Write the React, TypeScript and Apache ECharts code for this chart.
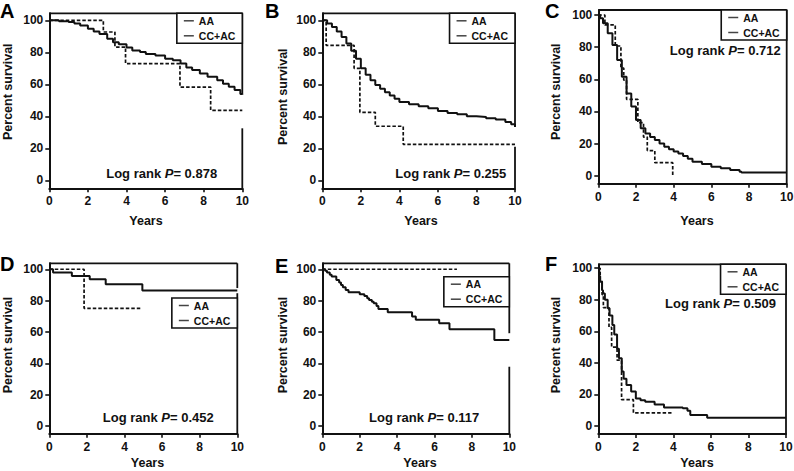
import React, { useEffect, useRef } from 'react';
import * as echarts from 'echarts';

// ---------- data ----------
const yearTicks = [0, 2, 4, 6, 8, 10];
const survivalTicks = [0, 20, 40, 60, 80, 100];
const panelLetters = ['A', 'B', 'C', 'D', 'E', 'F'];
const seriesNames = ['AA', 'CC+AC'];
const logRankP = ['0.878', '0.255', '0.712', '0.452', '0.117', '0.509'];

const aaA = [[0, 100], [0.5, 99.5], [1, 99], [1.3, 98], [1.6, 96.8], [2, 94.8], [2.3, 93], [2.6, 91.5], [3, 88.5], [3.3, 86.3], [3.6, 85], [4, 83], [4.3, 81.2], [4.7, 80.2], [5, 79], [5.5, 78], [6, 76], [6.4, 75], [6.8, 73], [7.1, 70.5], [7.4, 69], [7.8, 66.7], [8.2, 64.8], [8.7, 62.5], [9, 60.4], [9.3, 58.5], [9.6, 56.5], [9.9, 54], [10, 53.5]];
const ccA = [[0, 100], [2.8, 92.7], [3.4, 83.3], [3.95, 72.9], [6.77, 58.3], [8.36, 43.75], [10, 43.75]];

const aaB = [[0, 100], [0.25, 98], [0.5, 95.8], [0.75, 93], [1, 89.6], [1.25, 85.5], [1.5, 81], [1.75, 76], [2, 70], [2.25, 66], [2.5, 62.5], [2.75, 59.5], [3, 57.3], [3.25, 55], [3.5, 53], [3.75, 51], [4, 49], [4.5, 47.5], [5, 46.3], [5.5, 45], [6, 43.3], [6.5, 42], [7, 41.3], [7.5, 40], [8, 39.6], [8.5, 38.8], [9, 38], [9.5, 36.5], [9.8, 35], [10, 33.3]];
const ccB = [[0, 100], [0.2, 84.4], [1.65, 70], [1.95, 42.5], [2.75, 33.8], [4.2, 22.5], [10, 22.5]];

const aaC = [[0, 100], [0.1, 98], [0.25, 94.8], [0.5, 88.6], [0.75, 81.3], [1, 72], [1.25, 61.6], [1.5, 51.2], [1.75, 43], [2, 34.6], [2.25, 29.5], [2.5, 26.3], [2.75, 24], [3, 22.2], [3.25, 20], [3.5, 18], [3.75, 16.5], [4, 15], [4.25, 13.8], [4.5, 12.2], [4.75, 10.5], [5, 8.7], [5.5, 7.3], [6, 5.6], [6.5, 4.6], [7, 3.5], [7.5, 2.5], [7.6, 1.9], [10, 1.9]];
const ccC = [[0, 100], [0.35, 93.8], [0.9, 80.7], [1.2, 67], [1.35, 59.5], [1.5, 47.5], [2.1, 33], [2.4, 24], [2.6, 15.6], [3.0, 8.1], [3.95, 0]];

const aaD = [[0, 100], [0.2, 98], [1.2, 95.7], [2.15, 93.6], [3.0, 90.4], [4.95, 86.4], [10, 86.4]];
const ccD = [[0, 100], [1.85, 75.1], [4.9, 75.1]];

const aaE = [[0, 100], [0.15, 99], [0.25, 98], [0.4, 96.5], [0.5, 95.3], [0.75, 93.2], [0.9, 91.5], [1.0, 90], [1.1, 88.5], [1.25, 86.8], [1.4, 85.3], [2.0, 84], [2.25, 83], [2.4, 81.5], [2.5, 80.4], [2.65, 79.3], [2.75, 78.3], [2.9, 76.5], [3.0, 74.7], [3.5, 72.5], [4.8, 69.8], [5.0, 67.7], [6.25, 65.5], [6.8, 61.7], [9.2, 54.9], [10, 54.9]];
const ccE = [[0, 100], [7.2, 100]];

const aaF = [[0, 100], [0.05, 95], [0.1, 91.5], [0.2, 86], [0.25, 84], [0.35, 80], [0.5, 74.6], [0.6, 70], [0.75, 64], [0.85, 58], [1.0, 49], [1.1, 43], [1.25, 34.5], [1.35, 30], [1.5, 26], [1.75, 21.8], [2.0, 17.5], [2.25, 16.3], [2.5, 15.4], [3.0, 13.7], [3.5, 11.8], [4.5, 11.2], [4.75, 9.7], [4.9, 7], [5.8, 5.3], [10, 5.3]];
const ccF = [[0, 100], [0.1, 91.7], [0.2, 83.3], [0.27, 75], [0.57, 62.5], [0.71, 50], [1.0, 41.7], [1.24, 16.7], [1.87, 8.3], [3.9, 8.3]];

const aaSeries = [aaA, aaB, aaC, aaD, aaE, aaF];
const ccSeries = [ccA, ccB, ccC, ccD, ccE, ccF];

// ---------- layout (pixels) ----------
const layouts = [
  { left: 49.3, top: 13.3, width: 193, height: 175, yMax: 104.4, legendTop: 13.3, legendRight: 242.3, pText: [161.7, 173.3], letter: [0, 10.5], yName: [7.5, 91.7], xName: [146, 221], gaps: [[54, 32.5]] },
  { left: 322.3, top: 13.3, width: 192.7, height: 175, yMax: 104.4, legendTop: 13.3, legendRight: 515, pText: [450.8, 173.3], letter: [265, 10.5], yName: [282.5, 96.7], xName: [421, 221], gaps: [[33.3, 21]] },
  { left: 598.3, top: 10, width: 188.4, height: 173.7, yMax: 103.1, legendTop: 10, legendRight: 786.7, pText: [725.3, 50.7], letter: [545, 10.5], yName: [556, 91.7], xName: [697, 221], gaps: [] },
  { left: 49.3, top: 263.3, width: 188, height: 170.5, yMax: 103.8, legendTop: 298, legendRight: 237.3, pText: [158.3, 417.7], letter: [0, 263.5], yName: [7.5, 345], xName: [147.5, 463], gaps: [[88, 84.7]] },
  { left: 322.3, top: 263.3, width: 187, height: 170.5, yMax: 103.8, legendTop: 276.7, legendRight: 509.3, pText: [424.2, 417.7], letter: [275, 266], yName: [282.5, 345], xName: [420, 463], gaps: [[59.2, 37.8]] },
  { left: 598.3, top: 264.3, width: 187.7, height: 169.6, yMax: 102.5, legendTop: 264.3, legendRight: 786, pText: [720.5, 303.3], letter: [545, 263.5], yName: [556, 345], xName: [697, 463], gaps: [] },
];

const FONT = '"Liberation Sans", Arial, Helvetica, sans-serif';
const INK = '#111';

function frameSegments(yMax: number, gaps: number[][]) {
  const pts: number[] = [yMax];
  gaps.forEach(([a, b]) => { pts.push(a, b); });
  pts.push(-5);
  const segs: number[][][] = [[[0, yMax], [10, yMax]]];
  for (let i = 0; i < pts.length; i += 2) {
    segs.push([[10, pts[i]], [10, pts[i + 1]]]);
  }
  return segs;
}

function buildOption() {
  const grid: any[] = [];
  const xAxis: any[] = [];
  const yAxis: any[] = [];
  const series: any[] = [];
  const legend: any[] = [];
  const graphic: any[] = [];

  layouts.forEach((L, i) => {
    grid.push({ left: L.left, top: L.top, width: L.width, height: L.height, containLabel: false, outerBoundsMode: 'none' });
    xAxis.push({
      type: 'value', gridIndex: i, min: 0, max: 10, interval: 2, position: 'bottom',
      axisLine: { show: true, onZero: false, lineStyle: { color: INK, width: 2 } },
      axisTick: { show: true, length: 4, lineStyle: { color: INK, width: 1.6 } },
      axisLabel: { margin: 7, color: INK, fontSize: 12, fontWeight: 'bold', fontFamily: FONT, formatter: (v: number) => (yearTicks.includes(v) ? String(v) : '') },
      splitLine: { show: false },
    });
    yAxis.push({
      type: 'value', gridIndex: i, min: -5, max: L.yMax,
      axisLine: { show: true, onZero: false, lineStyle: { color: INK, width: 2 } },
      axisTick: { show: true, length: 4, customValues: survivalTicks, lineStyle: { color: INK, width: 1.6 } },
      axisLabel: { margin: 6, customValues: survivalTicks, color: INK, fontSize: 12, fontWeight: 'bold', fontFamily: FONT },
      splitLine: { show: false },
    });
    frameSegments(L.yMax, L.gaps).forEach((seg) => {
      series.push({
        type: 'line', xAxisIndex: i, yAxisIndex: i, data: seg, silent: true,
        showSymbol: false, symbol: 'none', clip: false, z: 4,
        lineStyle: { color: INK, width: 1.8, type: 'solid' },
      });
    });
    series.push({
      name: seriesNames[0], type: 'line', step: 'end', xAxisIndex: i, yAxisIndex: i,
      data: aaSeries[i], showSymbol: false, symbol: 'none', clip: false, z: 3,
      lineStyle: { color: INK, width: 2, type: 'solid' }, itemStyle: { color: INK },
    });
    series.push({
      name: seriesNames[1], type: 'line', step: 'end', xAxisIndex: i, yAxisIndex: i,
      data: ccSeries[i], showSymbol: false, symbol: 'none', clip: false, z: 2,
      lineStyle: { color: INK, width: 1.7, type: [3.5, 2] }, itemStyle: { color: INK },
    });
    legend.push({
      show: true, orient: 'vertical', right: 794 - L.legendRight, top: L.legendTop,
      data: seriesNames, icon: 'rect', itemWidth: 10, itemHeight: 1.5, itemGap: 4,
      padding: [2, 7, 2, 7], borderColor: INK, borderWidth: 1.6, backgroundColor: '#fff',
      selectedMode: false, z: 5,
      itemStyle: { color: '#444', borderWidth: 0 },
      textStyle: { color: INK, fontSize: 10.5, fontWeight: 'bold', fontFamily: FONT },
    });
    graphic.push({
      type: 'text', silent: true,
      style: {
        text: panelLetters[i], x: L.letter[0], y: L.letter[1], fill: '#000',
        font: `bold 20px ${FONT}`, align: 'left', verticalAlign: 'middle',
      },
    });
    graphic.push({
      type: 'text', silent: true, x: L.yName[0], y: L.yName[1], rotation: Math.PI / 2,
      style: {
        text: 'Percent survival', x: 0, y: 0, fill: INK,
        font: `bold 12.5px ${FONT}`, align: 'center', verticalAlign: 'middle',
      },
    });
    graphic.push({
      type: 'text', silent: true,
      style: {
        text: 'Years', x: L.xName[0], y: L.xName[1], fill: INK,
        font: `bold 12.5px ${FONT}`, align: 'center', verticalAlign: 'middle',
      },
    });
    graphic.push({
      type: 'text', silent: true,
      style: {
        text: `{n|Log rank }{i|P}{n|= ${logRankP[i]}}`, x: L.pText[0], y: L.pText[1],
        align: 'center', verticalAlign: 'middle', fill: INK,
        rich: {
          n: { fontSize: 13, fontWeight: 'bold', fontFamily: FONT, fill: INK },
          i: { fontSize: 13, fontWeight: 'bold', fontFamily: FONT, fontStyle: 'italic', fill: INK },
        },
      },
    });
  });

  return {
    animation: false,
    backgroundColor: '#fff',
    grid, xAxis, yAxis, series, legend, graphic,
  };
}

export default function App() {
  const ref = useRef<HTMLDivElement>(null);
  useEffect(() => {
    document.body.style.margin = '0';
    if (!ref.current) return;
    const chart = echarts.init(ref.current, null, { renderer: 'svg' });
    chart.setOption(buildOption() as any);
    return () => chart.dispose();
  }, []);
  return <div ref={ref} style={{ width: 794, height: 471 }} />;
}
